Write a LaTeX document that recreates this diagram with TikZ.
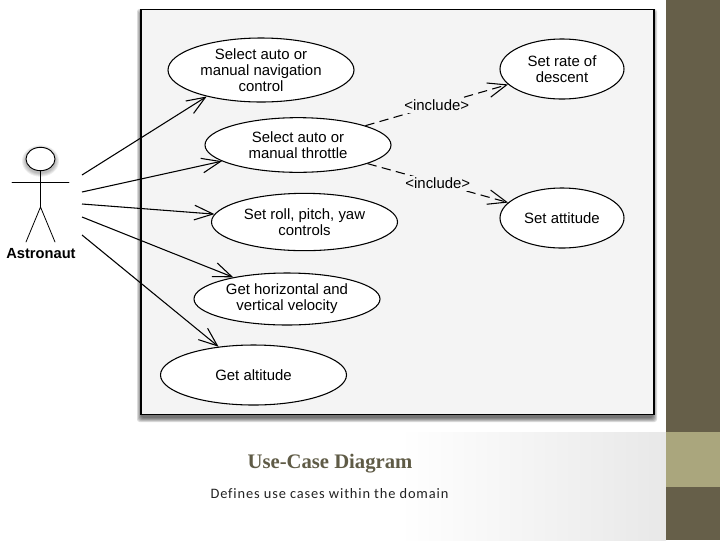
\documentclass[tikz,border=0pt]{standalone}
\usepackage{fontspec}
\setmainfont{Liberation Sans}
\newfontfamily\titlefont{Liberation Serif}
\newfontfamily\subfont[LetterSpace=6,Ligatures=NoCommon]{Carlito}
\usepackage{tikz}
\usetikzlibrary{arrows.meta,shapes.geometric}
\definecolor{panelc}{HTML}{F4F4F4}
\definecolor{darkbar}{HTML}{665F49}
\definecolor{lightbar}{HTML}{AAA67D}
\definecolor{titlec}{HTML}{5F5B46}
\definecolor{subc}{HTML}{222222}
\definecolor{greyc}{HTML}{E8E8E8}

\begin{document}
\begin{tikzpicture}[x=0.75pt,y=-0.75pt,
 usecase/.style={ellipse,draw=black,line width=0.8pt,fill=white,inner sep=0pt,minimum width=139.5pt,align=center,font=\fontsize{11.2}{12}\selectfont},
 goal/.style={usecase,minimum width=93pt,minimum height=45pt},
 assoc/.style={line width=0.8pt,-{Straight Barb[length=14pt,width=11pt,line width=0.8pt]}},
 incl/.style={assoc,dash pattern=on 7pt off 4pt},
 incllabel/.style={fill=panelc,inner sep=1.5pt,font=\fontsize{11.2}{12}\selectfont},
 limb/.style={line width=0.6pt,line cap=round}]
\useasboundingbox (0,0) rectangle (720,540);
% background and side bar
\fill[white] (0,0) rectangle (720,540);
\shade[left color=white,right color=greyc] (400,432) rectangle (666,540);
\fill[darkbar] (666,0) rectangle (720,540);
\fill[lightbar] (666,432) rectangle (720,487);
% panel with soft shadow
\foreach \s in {4,3,2,1,0}{
 \fill[black,opacity=0.14,rounded corners=2pt] (141-\s,13-\s) rectangle (653+\s,418+\s);}
\node[draw=black,line width=1.1pt,fill=panelc,minimum width=384.75pt,minimum height=303.75pt,inner sep=0pt] (panel) at (397.5,212) {};
% actor
\foreach \s in {4,3,2,1}{
 \fill[black,opacity=0.07] (40.5,161) ellipse ({14.5+\s} and {11.7+\s});}
\node[ellipse,draw=black,line width=0.7pt,fill=white,minimum width=21.75pt,minimum height=17.5pt,inner sep=0pt] (head) at (40.5,159) {};
\coordinate (hip) at (40.5,207);
\coordinate (armL) at (12,182);
\coordinate (armR) at (69,182);
\coordinate (footL) at (26,242);
\coordinate (footR) at (55,242);
\draw[limb] (head) -- (hip);
\draw[limb] (armL) -- (armR);
\draw[limb] (footL) -- (hip) -- (footR);
\node[font=\fontsize{11}{12}\selectfont\bfseries] (astronaut) at (41,254) {Astronaut};
% use cases
\node[usecase,minimum height=48pt] (nav) at (261,70) {Select auto or\\manual navigation\\control};
\node[usecase,minimum height=41pt] (throttle) at (298,145) {Select auto or\\manual throttle};
\node[usecase,minimum height=43pt] (roll) at (304.5,222) {Set roll, pitch, yaw\\controls};
\node[usecase,minimum height=39pt] (velocity) at (287,299) {Get horizontal and\\vertical velocity};
\node[usecase,minimum height=45pt] (altitude) at (253.5,375) {Get altitude};
\node[goal] (rate) at (562,69) {Set rate of\\descent};
\node[goal] (attitude) at (562,218) {Set attitude};
% connectors
\coordinate (a1) at (82,175);
\coordinate (a2) at (82,192);
\coordinate (a3) at (82,204);
\coordinate (a4) at (82,217);
\coordinate (a5) at (82,235);
\draw[assoc] (a1) -- (nav.206);
\draw[assoc] (a2) -- (throttle.192);
\draw[assoc] (a3) -- (roll.175);
\draw[assoc] (a4) -- (velocity.158);
\draw[assoc] (a5) -- (altitude.141);
\draw[incl] (throttle.16) -- node[incllabel] (inc1) {<include>} (rate.196);
\draw[incl] (throttle.345) -- node[incllabel] (inc2) {<include>} (attitude.164);
% caption
\node[font=\fontsize{15.5}{16}\titlefont\bfseries,text=titlec] (title) at (330,464) {Use-Case Diagram};
\node[font=\fontsize{10.8}{12}\subfont,text=subc] (sub) at (329.5,494) {Defines use cases within the domain};
\end{tikzpicture}
\end{document}
